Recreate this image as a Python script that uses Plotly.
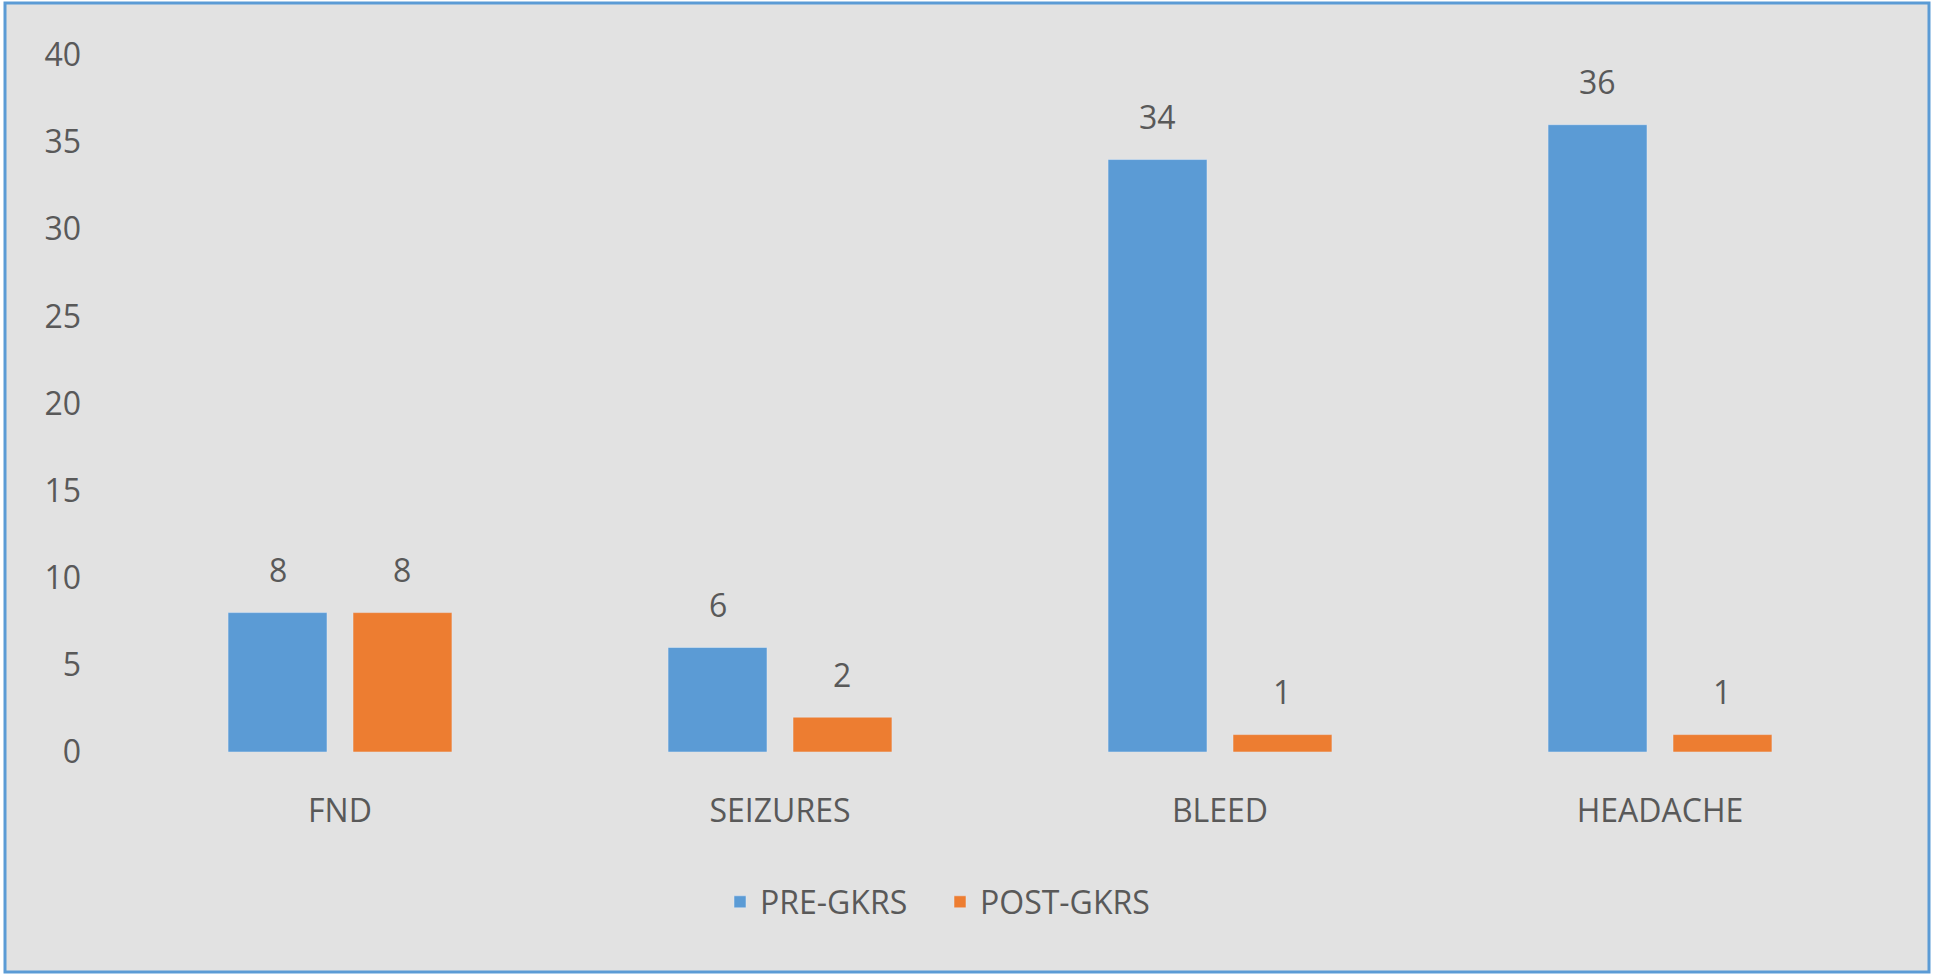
import plotly.graph_objects as go

categories = ["FND", "SEIZURES", "BLEED", "HEADACHE"]
pre_gkrs = [8, 6, 34, 36]
post_gkrs = [8, 2, 1, 1]
series_names = ["PRE-GKRS", "POST-GKRS"]
y_ticks = [0, 5, 10, 15, 20, 25, 30, 35, 40]

BLUE = "#5B9BD5"
ORANGE = "#ED7D31"
TEXT = "#595959"
BG = "#E2E2E2"
FONT = "Open Sans"
FS = 32

W, H = 1937, 978
L, R, T, B = 120, 57, 55, 226
BARGAP = 0.432
GROUPGAP = 0.208

fig = go.Figure()
fig.add_trace(go.Bar(x=categories, y=pre_gkrs, name=series_names[0], marker_color=BLUE))
fig.add_trace(go.Bar(x=categories, y=post_gkrs, name=series_names[1], marker_color=ORANGE))

# data labels above bars
off = (1 - BARGAP) / 4
for series, sgn in ((pre_gkrs, -1), (post_gkrs, 1)):
    for i, v in enumerate(series):
        fig.add_annotation(x=i + sgn * off, y=v, xref="x", yref="y", text=str(v),
                           showarrow=False, yanchor="middle", yshift=43,
                           font=dict(family=FONT, size=FS, color=TEXT))

pw = W - L - R
ph = H - T - B
fig.add_shape(type="rect", xref="paper", yref="paper",
              x0=(5 - L) / pw, x1=(1929 - L) / pw,
              y0=(H - B - 972) / ph, y1=(H - B - 3) / ph,
              line=dict(color=BLUE, width=3), fillcolor=BG, layer="below")

fig.update_layout(
    width=W, height=H,
    margin=dict(l=L, r=R, t=T, b=B, pad=0),
    paper_bgcolor="white", plot_bgcolor="rgba(0,0,0,0)",
    barmode="group", bargap=BARGAP, bargroupgap=GROUPGAP,
    font=dict(family=FONT, size=FS, color=TEXT),
    showlegend=True,
    legend=dict(orientation="h", x=(940 - L) / pw, xanchor="center",
                y=(H - B - 902) / ph, yanchor="middle",
                bgcolor="rgba(0,0,0,0)", font=dict(family=FONT, size=FS, color=TEXT),
                itemwidth=30, entrywidth=175, entrywidthmode="pixels"),
    xaxis=dict(showgrid=False, zeroline=False, showline=False, ticks="",
               ticklabelstandoff=37, tickfont=dict(family=FONT, size=FS, color=TEXT)),
    yaxis=dict(range=[0, 40], tickvals=y_ticks, showgrid=False, zeroline=False,
               showline=False, ticks="", ticklabelstandoff=38,
               tickfont=dict(family=FONT, size=FS, color=TEXT)),
)

fig.write_html("out.html", config={"displayModeBar": False},
               post_script="document.body.style.margin='0';")
